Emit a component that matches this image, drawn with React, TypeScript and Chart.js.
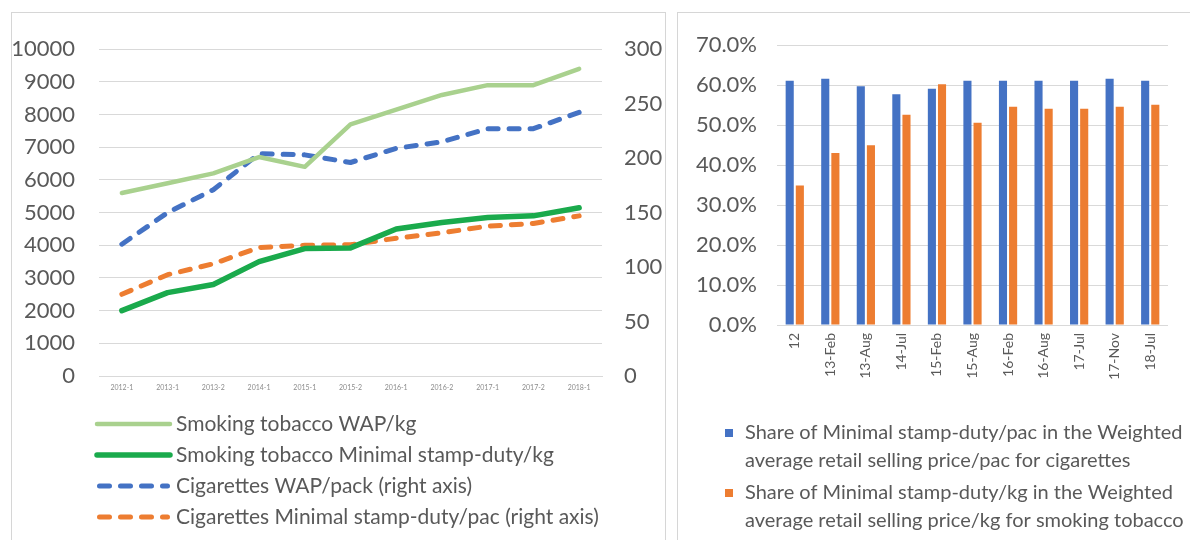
import React, { useEffect, useRef } from "react";
import { Chart, registerables } from "chart.js";

Chart.register(...registerables);

// ---------- data ----------
const lineCategories = ["2012-1", "2013-1", "2013-2", "2014-1", "2015-1", "2015-2", "2016-1", "2016-2", "2017-1", "2017-2", "2018-1"];
const tobaccoWap = [5600, 5900, 6200, 6700, 6400, 7700, 8150, 8600, 8900, 8900, 9400];
const tobaccoMinDuty = [2000, 2550, 2800, 3500, 3900, 3920, 4500, 4700, 4850, 4900, 5150];
const cigaretteWap = [121, 150, 171, 204, 203, 196, 209, 215, 227, 227, 242];
const cigaretteMinDuty = [75, 93, 103, 118, 120, 120.5, 126.5, 131.5, 137.5, 140, 147];
const lineSeriesNames = [
  "Smoking tobacco WAP/kg",
  "Smoking tobacco Minimal stamp-duty/kg",
  "Cigarettes WAP/pack (right axis)",
  "Cigarettes Minimal stamp-duty/pac (right axis)",
];

const barCategories = ["12", "13-Feb", "13-Aug", "14-Jul", "15-Feb", "15-Aug", "16-Feb", "16-Aug", "17-Jul", "17-Nov", "18-Jul"];
const cigaretteShare = [61.1, 61.6, 59.7, 57.7, 59.1, 61.1, 61.1, 61.1, 61.1, 61.6, 61.1];
const tobaccoShare = [34.9, 43.0, 45.0, 52.6, 60.2, 50.6, 54.6, 54.1, 54.1, 54.6, 55.1];
const barLegendLines = [
  ["Share of Minimal stamp-duty/pac in the Weighted", "average retail selling price/pac for cigarettes"],
  ["Share of Minimal stamp-duty/kg in the Weighted", "average retail selling price/kg for smoking tobacco"],
];

// ---------- styles ----------
const FONT = "Lato, 'Open Sans', sans-serif";
const TEXT = "#595959";
const GRID = "#D9D9D9";

const panelLegend = {
  id: "panelLegend",
  afterDraw(chart: any, _args: any, opts: any) {
    if (!opts || !opts.items) return;
    const ctx = chart.ctx;
    ctx.save();
    ctx.font = `${opts.fontSize}px ${FONT}`;
    ctx.textBaseline = "middle";
    ctx.textAlign = "left";
    let y = opts.y;
    opts.items.forEach((lines: string[], i: number) => {
      const ds = chart.data.datasets[i];
      if (opts.marker === "line") {
        ctx.save();
        ctx.strokeStyle = ds.borderColor;
        ctx.lineWidth = ds.borderWidth;
        ctx.lineCap = ds.borderCapStyle || "butt";
        ctx.setLineDash(ds.borderDash || []);
        ctx.beginPath();
        const x0 = opts.x + (ds.borderDash ? ds.borderWidth / 2 : 0);
        const x1 = opts.x + opts.sampleWidth - (ds.borderDash ? ds.borderWidth / 2 : 0);
        ctx.moveTo(x0, y);
        ctx.lineTo(x1, y);
        ctx.stroke();
        ctx.restore();
      } else {
        ctx.fillStyle = ds.backgroundColor;
        ctx.fillRect(opts.x, y - opts.box / 2, opts.box, opts.box);
      }
      ctx.fillStyle = opts.color;
      lines.forEach((ln: string, j: number) => ctx.fillText(ln, opts.textX, y + j * opts.lineHeight));
      y += lines.length * opts.lineHeight + opts.itemGap;
    });
    ctx.restore();
  },
};

function LineChartPanel() {
  const ref = useRef<HTMLCanvasElement | null>(null);
  useEffect(() => {
    if (!ref.current) return;
    const dash = [10, 11];
    const chart = new Chart(ref.current, {
      type: "line",
      data: {
        labels: lineCategories,
        datasets: [
          { label: lineSeriesNames[0], data: tobaccoWap, borderColor: "#A9D18E", borderWidth: 4.5, yAxisID: "y", pointRadius: 0, borderCapStyle: "round", borderJoinStyle: "round" },
          { label: lineSeriesNames[1], data: tobaccoMinDuty, borderColor: "#1AAA4C", borderWidth: 5.5, yAxisID: "y", pointRadius: 0, borderCapStyle: "round", borderJoinStyle: "round" },
          { label: lineSeriesNames[2], data: cigaretteWap, borderColor: "#4472C4", borderWidth: 5, borderDash: dash, yAxisID: "y1", pointRadius: 0, borderCapStyle: "round", borderJoinStyle: "round" },
          { label: lineSeriesNames[3], data: cigaretteMinDuty, borderColor: "#ED7D31", borderWidth: 5, borderDash: dash, yAxisID: "y1", pointRadius: 0, borderCapStyle: "round", borderJoinStyle: "round" },
        ] as any,
      },
      options: {
        responsive: false,
        animation: false,
        layout: { padding: { left: 0, right: 0, top: 28, bottom: 142 } },
        plugins: {
          legend: { display: false },
          tooltip: { enabled: false },
          panelLegend: {
            marker: "line",
            items: lineSeriesNames.map((n) => [n]),
            x: 86,
            y: 412,
            sampleWidth: 73,
            textX: 165,
            lineHeight: 31,
            itemGap: 0,
            fontSize: 21,
            color: TEXT,
          },
        } as any,
        scales: {
          x: {
            offset: true,
            grid: { display: false, drawTicks: false },
            border: { display: true, color: GRID },
            ticks: { font: { family: FONT, size: 7 }, color: "#8C8C8C", maxRotation: 0, autoSkip: false, padding: 8 },
            afterFit: (s: any) => { s.height = 22; },
          },
          y: {
            position: "left",
            min: 0,
            max: 10000,
            ticks: { stepSize: 1000, callback: (v: any) => String(v), font: { family: FONT, size: 22 }, color: TEXT, padding: 24 },
            grid: { color: GRID, drawTicks: false },
            border: { display: false },
            afterFit: (s: any) => { s.width = 88; },
          },
          y1: {
            position: "right",
            min: 0,
            max: 300,
            ticks: { stepSize: 50, callback: (v: any) => String(v), font: { family: FONT, size: 22 }, color: TEXT, padding: 22 },
            grid: { display: false, drawTicks: false },
            border: { display: false },
            afterFit: (s: any) => { s.width = 63; },
          },
        } as any,
      },
      plugins: [panelLegend as any],
    });
    return () => chart.destroy();
  }, []);
  return <canvas ref={ref} width={654} height={528} style={{ position: "absolute", left: 11, top: 12 }} />;
}

function BarChartPanel() {
  const ref = useRef<HTMLCanvasElement | null>(null);
  useEffect(() => {
    if (!ref.current) return;
    const chart = new Chart(ref.current, {
      type: "bar",
      data: {
        labels: barCategories,
        datasets: [
          { label: barLegendLines[0].join(" "), data: cigaretteShare, backgroundColor: "#4472C4", categoryPercentage: 0.57, barPercentage: 0.8 },
          { label: barLegendLines[1].join(" "), data: tobaccoShare, backgroundColor: "#ED7D31", categoryPercentage: 0.57, barPercentage: 0.8 },
        ],
      },
      options: {
        responsive: false,
        animation: false,
        layout: { padding: { left: 0, right: 22, top: 30, bottom: 140 } },
        plugins: {
          legend: { display: false },
          tooltip: { enabled: false },
          panelLegend: {
            marker: "box",
            items: barLegendLines,
            x: 48,
            y: 421,
            box: 8,
            textX: 68,
            lineHeight: 28,
            itemGap: 4,
            fontSize: 20,
            color: TEXT,
          },
        } as any,
        scales: {
          x: {
            grid: { display: false, drawTicks: false },
            border: { display: false },
            ticks: { font: { family: FONT, size: 14 }, color: TEXT, minRotation: 90, maxRotation: 90, autoSkip: false, padding: 8 },
            afterFit: (s: any) => { s.height = 75; },
          },
          y: {
            min: 0,
            max: 70,
            ticks: { stepSize: 10, callback: (v: any) => Number(v).toFixed(1) + "%", font: { family: FONT, size: 22 }, color: TEXT, padding: 20 },
            grid: { color: GRID, drawTicks: false },
            border: { display: false },
            afterFit: (s: any) => { s.width = 100; },
          },
        } as any,
      },
      plugins: [panelLegend as any],
    });
    return () => chart.destroy();
  }, []);
  return <canvas ref={ref} width={513} height={528} style={{ position: "absolute", left: 677, top: 12 }} />;
}

export default function App() {
  return (
    <div style={{ position: "absolute", left: 0, top: 0, width: 1190, height: 540, overflow: "hidden", background: "#fff" }}>
      <div style={{ position: "absolute", left: 11, top: 12, width: 653, height: 600, border: "1px solid #D6D6D6" }} />
      <div style={{ position: "absolute", left: 677, top: 12, width: 600, height: 600, border: "1px solid #D6D6D6" }} />
      <LineChartPanel />
      <BarChartPanel />
    </div>
  );
}
